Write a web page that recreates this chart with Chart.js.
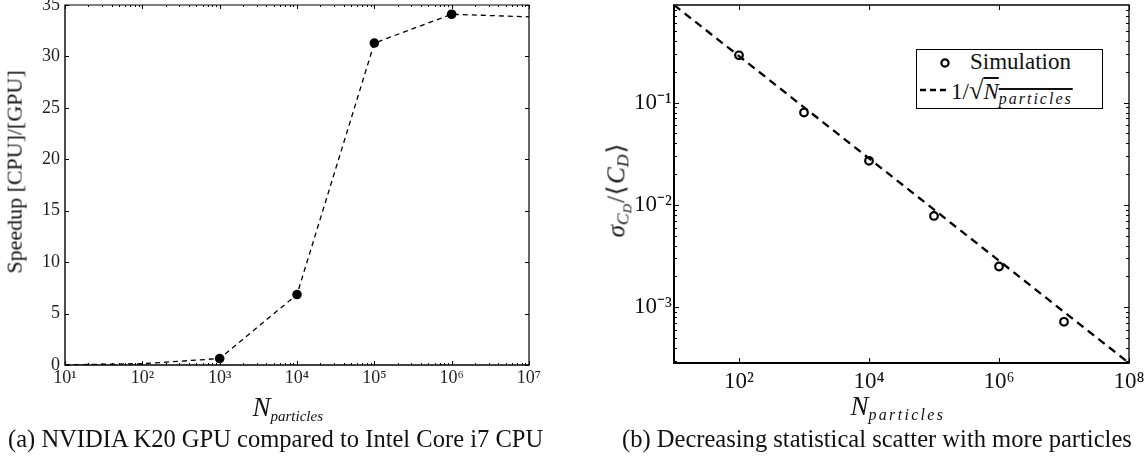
<!DOCTYPE html>
<html><head><meta charset="utf-8">
<script src="https://cdn.jsdelivr.net/npm/chart.js@4.4.0/dist/chart.umd.min.js"></script>
<style>
html,body{margin:0;padding:0;background:#fff;width:1148px;height:461px;overflow:hidden;position:relative;font-family:"Liberation Serif",serif;color:#111}
canvas{position:absolute}
.t{position:absolute;white-space:nowrap;line-height:1}
.sub{position:relative}
</style></head><body>
<canvas id="c1" width="580" height="420" style="left:0;top:-10px"></canvas>
<canvas id="c2" width="568" height="430" style="left:580px;top:-10px"></canvas>

<div id="ylabA" class="t">Speedup [CPU]/[GPU]</div>
<div id="xlabA" class="t"><i>N</i><i class="sub" style="font-size:15px;top:5px">particles</i></div>
<div id="capA" class="t">(a) NVIDIA K20 GPU compared to Intel Core i7 CPU</div>

<div id="ylabB" class="t"><i>σ</i><i class="sub" style="font-size:0.7em;top:0.25em;margin-right:1px">C<span class="sub" style="font-size:0.75em;top:0.2em">D</span></i>/<span style="margin:0 1px">⟨</span><i>C</i><i class="sub" style="font-size:0.7em;top:0.25em">D</i><span style="margin-left:1px">⟩</span></div>
<div id="xlabB" class="t"><i>N</i><i class="sub" style="font-size:16px;top:5px;letter-spacing:2.3px">particles</i></div>
<div id="capB" class="t">(b) Decreasing statistical scatter with more particles</div>

<div id="legendB" style="position:absolute;left:916px;top:49px;width:185px;height:58px;border:1.3px solid #000;background:#fff">
  <svg style="position:absolute;left:0;top:0" width="40" height="58">
    <circle cx="28" cy="13" r="3.6" fill="none" stroke="#000" stroke-width="2.2"/>
    <line x1="3" y1="40" x2="32" y2="40" stroke="#000" stroke-width="2.6" stroke-dasharray="6,4"/>
  </svg>
  <div id="legT1" class="t"></div>
  <div id="legT2" class="t"></div>
</div>

<script>
// ---------- data (a) ----------
const nA = [1e1, 1e2, 1e3, 1e4, 1e5, 1e6, 1e7];
const speedupA = [0.02, 0.12, 0.63, 6.85, 31.3, 34.1, 33.85];
const markedNA = [1e3, 1e4, 1e5, 1e6];
const xTicksA = [1e1, 1e2, 1e3, 1e4, 1e5, 1e6, 1e7];
const xTickLabelsA = ['10¹', '10²', '10³', '10⁴', '10⁵', '10⁶', '10⁷'];
const yTicksA = [0, 5, 10, 15, 20, 25, 30, 35];

// ---------- data (b) ----------
const nSimB = [1e2, 1e3, 1e4, 1e5, 1e6, 1e7];
const sigmaSimB = [0.29, 0.080, 0.027, 0.0078, 0.0025, 0.00072];
const nLineB = [1e1, 1e2, 1e3, 1e4, 1e5, 1e6, 1e7, 1e8];
const sigmaLineB = [0.9, 0.285, 0.09, 0.0285, 0.009, 0.00285, 0.0009, 0.000285];
const xTicksB = [1e2, 1e4, 1e6, 1e8];
const xTickLabelsB = ['10²', '10⁴', '10⁶', '10⁸'];
const yTicksB = [1e-3, 1e-2, 1e-1];
const yTickLabelsB = ['10⁻³', '10⁻²', '10⁻¹'];
const seriesLabelsB = ['Simulation', '1/√N_particles'];

function lookup(v, vals, labels) {
  for (let i = 0; i < vals.length; i++) {
    if (Math.abs(Math.log10(v) - Math.log10(vals[i])) < 1e-6) return labels[i];
  }
  return '';
}
function minorLog(min, max) {
  const out = [];
  for (let e = Math.floor(Math.log10(min)); e <= Math.ceil(Math.log10(max)); e++) {
    for (let m = 2; m <= 9; m++) { const v = m * Math.pow(10, e); if (v > min && v < max) out.push(v); }
  }
  return out;
}

const frameTicks = {
  id: 'frameTicks',
  afterDraw(chart, args, o) {
    const {ctx, chartArea: a} = chart;
    const x = chart.scales.x, y = chart.scales.y;
    ctx.save();
    ctx.strokeStyle = '#000';
    const xt = (vals, len, w) => {
      ctx.lineWidth = w; ctx.beginPath();
      vals.forEach(v => { const p = Math.round(x.getPixelForValue(v)) + 0.5;
        ctx.moveTo(p, a.bottom); ctx.lineTo(p, a.bottom - len);
        ctx.moveTo(p, a.top); ctx.lineTo(p, a.top + len); });
      ctx.stroke();
    };
    const yt = (vals, len, w) => {
      ctx.lineWidth = w; ctx.beginPath();
      vals.forEach(v => { const p = Math.round(y.getPixelForValue(v)) + 0.5;
        ctx.moveTo(a.left, p); ctx.lineTo(a.left + len, p);
        ctx.moveTo(a.right, p); ctx.lineTo(a.right - len, p); });
      ctx.stroke();
    };
    xt(o.xMajor || [], o.majorLen, 1);
    xt(o.xMinor || [], o.minorLen, 1);
    yt(o.yMajor || [], o.majorLen, 1);
    yt(o.yMinor || [], o.minorLen, 1);
    const f = o.frame;
    const seg = (w, x1, y1, x2, y2) => { ctx.lineWidth = w; ctx.beginPath(); ctx.moveTo(x1, y1); ctx.lineTo(x2, y2); ctx.stroke(); };
    seg(f.top, a.left - f.left / 2, a.top, a.right + f.right / 2, a.top);
    seg(f.bottom, a.left - f.left / 2, a.bottom, a.right + f.right / 2, a.bottom);
    seg(f.left, a.left, a.top, a.left, a.bottom);
    seg(f.right, a.right, a.top, a.right, a.bottom);
    ctx.restore();
  }
};

const fixBox = (w, h) => (s) => {
  if (w != null) s.width = w;
  if (h != null) s.height = h;
  s.paddingLeft = 0; s.paddingRight = 0; s.paddingTop = 0; s.paddingBottom = 0;
};

// ---------- chart (a) ----------
new Chart(document.getElementById('c1'), {
  type: 'line',
  data: {
    datasets: [{
      label: 'Speedup',
      data: nA.map((n, i) => ({x: n, y: speedupA[i]})),
      borderColor: '#000', backgroundColor: '#000',
      borderWidth: 1.3, borderDash: [5, 4], tension: 0,
      pointRadius: c => (c.raw && markedNA.includes(c.raw.x)) ? 4.8 : 0,
      pointBorderWidth: 0, pointBackgroundColor: '#000'
    }]
  },
  options: {
    responsive: false, animation: false, devicePixelRatio: 1,
    layout: {padding: {left: 0, top: 15, right: 51, bottom: 0}},
    plugins: {
      legend: {display: false}, tooltip: {enabled: false},
      frameTicks: {xMajor: xTicksA, xMinor: minorLog(1e1, 1e7), yMajor: yTicksA, majorLen: 4, minorLen: 2,
        frame: {left: 1.4, bottom: 1.4, top: 1.2, right: 1.2}}
    },
    scales: {
      x: {
        type: 'logarithmic', min: 1e1, max: 1e7,
        grid: {display: false, drawTicks: false}, border: {display: false},
        afterBuildTicks: s => { s.ticks = xTicksA.map(v => ({value: v})); },
        afterFit: fixBox(null, 45),
        ticks: {font: {family: 'Liberation Serif', size: 18}, color: '#222', padding: 2, maxRotation: 0, autoSkip: false,
          callback: v => lookup(v, xTicksA, xTickLabelsA)}
      },
      y: {
        type: 'linear', min: 0, max: 35,
        grid: {display: false, drawTicks: false}, border: {display: false},
        afterBuildTicks: s => { s.ticks = yTicksA.map(v => ({value: v})); },
        afterFit: fixBox(65, null),
        ticks: {font: {family: 'Liberation Serif', size: 18}, color: '#222', padding: 5, autoSkip: false}
      }
    }
  },
  plugins: [frameTicks]
});

// ---------- chart (b) ----------
new Chart(document.getElementById('c2'), {
  type: 'line',
  data: {
    datasets: [{
      label: seriesLabelsB[0],
      data: nSimB.map((n, i) => ({x: n, y: sigmaSimB[i]})),
      showLine: false, pointRadius: 3.8, pointBorderWidth: 2.2,
      pointBorderColor: '#000', pointBackgroundColor: 'rgba(0,0,0,0)', borderColor: '#000'
    }, {
      label: seriesLabelsB[1],
      data: nLineB.map((n, i) => ({x: n, y: sigmaLineB[i]})),
      borderColor: '#000', borderWidth: 2.3, borderDash: [8, 5.5], pointRadius: 0, tension: 0
    }]
  },
  options: {
    responsive: false, animation: false, devicePixelRatio: 1,
    layout: {padding: {left: 0, top: 15, right: 19, bottom: 0}},
    plugins: {
      legend: {display: false}, tooltip: {enabled: false},
      frameTicks: {xMajor: xTicksB, yMajor: yTicksB, yMinor: minorLog(2.85e-4, 0.9), majorLen: 5, minorLen: 3,
        frame: {left: 2, bottom: 2, top: 1.3, right: 1.3}}
    },
    scales: {
      x: {
        type: 'logarithmic', min: 1e1, max: 1e8,
        grid: {display: false, drawTicks: false}, border: {display: false},
        afterBuildTicks: s => { s.ticks = xTicksB.map(v => ({value: v})); },
        afterFit: fixBox(null, 57),
        ticks: {font: {family: 'Liberation Serif', size: 23}, color: '#111', padding: 5, maxRotation: 0, autoSkip: false,
          callback: v => lookup(v, xTicksB, xTickLabelsB)}
      },
      y: {
        type: 'logarithmic', min: 2.85e-4, max: 0.9,
        grid: {display: false, drawTicks: false}, border: {display: false},
        afterBuildTicks: s => { s.ticks = yTicksB.map(v => ({value: v})); },
        afterFit: fixBox(94, null),
        ticks: {font: {family: 'Liberation Serif', size: 23}, color: '#111', padding: 2, autoSkip: false,
          callback: v => lookup(v, yTicksB, yTickLabelsB)}
      }
    }
  },
  plugins: [frameTicks]
});

// ---------- legend text ----------
document.getElementById('legT1').textContent = seriesLabelsB[0];
document.getElementById('legT2').innerHTML = '1/<span style="font-size:1.15em">√</span><span style="text-decoration:overline"><i>N</i><i class="sub" style="font-size:16px;top:5px;letter-spacing:2px">particles</i></span>';

// ---------- text placement ----------
const ASC = 0.8375;
function fit(el, width) {
  const fs = parseFloat(getComputedStyle(el).fontSize);
  const w = el.offsetWidth;
  el.style.fontSize = (fs * width / w) + 'px';
  return fs * width / w;
}
function placeH(id, fs, o) {
  const el = document.getElementById(id);
  el.style.fontSize = fs + 'px';
  if (o.width) fs = fit(el, o.width);
  const w = el.offsetWidth;
  el.style.left = (o.left != null ? o.left : o.cx - w / 2) + 'px';
  el.style.top = (o.baseline - ASC * fs) + 'px';
  return fs;
}
function placeV(id, fs, o) {
  const el = document.getElementById(id);
  el.style.fontSize = fs + 'px';
  if (o.length) fs = fit(el, o.length);
  const w = el.offsetWidth, h = el.offsetHeight;
  const cx = o.baselineX - (ASC - 0.5) * fs;
  el.style.left = (cx - w / 2) + 'px';
  el.style.top = (o.cy - h / 2) + 'px';
  el.style.transform = 'rotate(-90deg)';
}
const capFs = placeH('capA', 24, {left: 8, baseline: 448, width: 535});
placeH('capB', capFs, {left: 622, baseline: 448});
placeH('xlabA', 27, {cx: 288, baseline: 417});
placeH('xlabB', 27, {cx: 898, baseline: 416});
placeV('ylabA', 21, {baselineX: 22, cy: 171.5, length: 203});
placeV('ylabB', 25, {baselineX: 624, cy: 190});
placeH('legT1', 23, {left: 53, baseline: 19});
placeH('legT2', 23, {left: 34, baseline: 46});
</script>
</body></html>
